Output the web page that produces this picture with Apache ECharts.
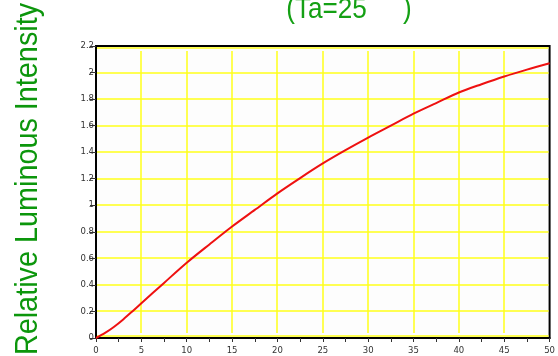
<!DOCTYPE html>
<html>
<head>
<meta charset="utf-8">
<script src="https://cdn.jsdelivr.net/npm/echarts@6/dist/echarts.min.js"></script>
<style>
    html, body { margin: 0; padding: 0; background: #fff; }
    #chart { width: 558px; height: 356px; }
</style>
</head>
<body>
<div id="chart"></div>
<script>
    // forward current vs relative luminous intensity
    var current = [0, 1, 2, 3, 4, 5, 7.5, 10, 12.5, 15, 17.5, 20, 22.5, 25, 27.5,
        30, 32.5, 35, 37.5, 40, 42.5, 45, 47.5, 50]
    var intensity = [0, 0.038, 0.085, 0.14, 0.2, 0.262, 0.415, 0.567, 0.705, 0.84, 0.965,
        1.09, 1.205, 1.315, 1.415, 1.51, 1.60, 1.69, 1.77, 1.85, 1.912, 1.97, 2.022, 2.07]
    var xTicks = [5, 10, 15, 20, 25, 30, 35, 40, 45]
    var yTicks = [0, 0.2, 0.4, 0.6, 0.8, 1, 1.2, 1.4, 1.6, 1.8, 2, 2.2]
    var titleText = '(Ta=25     )'
    var yName = 'Relative Luminous Intensity'

    var X_MAX = 50, Y_MAX = 2.2
    var points = current.map(function (c, i) { return [c, intensity[i]] })
    var gridColor = '#ffff1a'

    // yellow grid, vertical ones stop a little short like the original
    function vLine (params, api) {
        var top = api.coord([api.value(0), Y_MAX])
        var bot = api.coord([api.value(0), 0])
        var x = Math.round(top[0])
        return {type: 'line', silent: true,
            shape: {x1: x, y1: top[1] + 5, x2: x, y2: bot[1] - 5},
            style: {stroke: gridColor, lineWidth: 1.5}}
    }
    function hLine (params, api) {
        var l = api.coord([0, api.value(1)])
        var r = api.coord([X_MAX, api.value(1)])
        var yTop = api.coord([0, Y_MAX])[1], yBot = api.coord([0, 0])[1]
        // keep the edge lines just inside the black frame
        var y = Math.min(Math.max(Math.round(l[1]), yTop + 2), yBot - 2)
        return {type: 'line', silent: true,
            shape: {x1: l[0] + 1, y1: y, x2: r[0] - 1, y2: y},
            style: {stroke: gridColor, lineWidth: 1.5}}
    }

    var chart = echarts.init(document.getElementById('chart'), null, {renderer: 'canvas'})
    var option = {
        animation: false,
        backgroundColor: '#ffffff',
        grid: {left: 96, right: 4, top: 46, bottom: 18, show: true,
            backgroundColor: '#fdfdfd', borderColor: '#000', borderWidth: 2},
        graphic: [
            {type: 'text', x: 349, y: 25, scaleX: 0.87,
                style: {text: titleText, font: '30px "Liberation Sans"', fill: '#14a014',
                    textAlign: 'center', textVerticalAlign: 'bottom'}},
            {type: 'text', x: 44, y: 179, rotation: Math.PI / 2, scaleX: 0.9,
                style: {text: yName, font: '32px "Liberation Sans"', fill: '#0c960c',
                    textAlign: 'center', textVerticalAlign: 'bottom'}}
        ],
        xAxis: {
            type: 'value', min: 0, max: X_MAX, interval: 5,
            axisLine: {show: true, lineStyle: {color: '#000', width: 2}},
            axisTick: {show: true, length: 4, lineStyle: {color: '#333'}},
            minorTick: {show: true, splitNumber: 2, length: 4, lineStyle: {color: '#333'}},
            axisLabel: {color: '#333', fontSize: 8.5, fontFamily: 'DejaVu Sans', margin: 8},
            splitLine: {show: false}
        },
        yAxis: {
            type: 'value', min: 0, max: Y_MAX, interval: 0.2,
            axisLine: {show: true, lineStyle: {color: '#000', width: 2}},
            axisTick: {show: true, length: 6, lineStyle: {color: '#333'}},
            axisLabel: {color: '#333', fontSize: 8.5, fontFamily: 'DejaVu Sans', margin: 2,
                formatter: function (v) { return +v.toFixed(1) + '' }},
            splitLine: {show: false}
        },
        series: [
            {type: 'custom', renderItem: vLine, silent: true, z: 1,
                data: xTicks.map(function (v) { return [v, 0] })},
            {type: 'custom', renderItem: hLine, silent: true, z: 1,
                data: yTicks.map(function (v) { return [0, v] })},
            {
                type: 'line',
                data: points,
                smooth: 0.3,
                showSymbol: false,
                z: 3,
                lineStyle: {color: '#ee1111', width: 2}
            }
        ]
    }
    chart.setOption(option)
</script>
</body>
</html>
